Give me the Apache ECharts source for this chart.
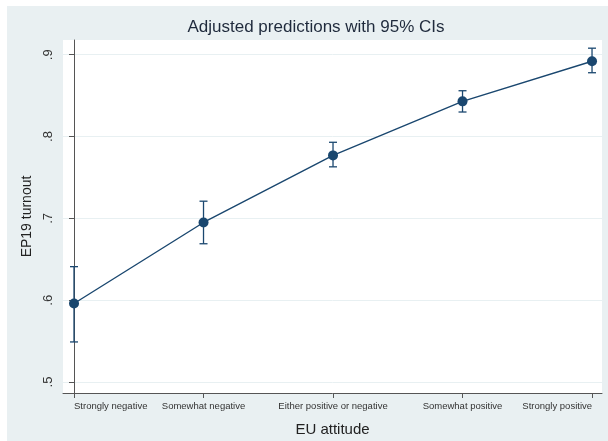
<!DOCTYPE html>
<html>
<head>
<meta charset="utf-8">
<script src="https://cdn.jsdelivr.net/npm/echarts@6/dist/echarts.min.js"></script>
<style>
  html, body { margin: 0; padding: 0; background: #ffffff; }
  #chart { width: 608px; height: 441px; }
</style>
</head>
<body>
<div id="chart"></div>
<script>
// EU attitude categories along the x axis
const categories = [
  'Strongly negative',
  'Somewhat negative',
  'Either positive or negative',
  'Somewhat positive',
  'Strongly positive'
];
// Adjusted predicted EP19 turnout with 95% confidence limits
const predicted = [0.596, 0.695, 0.777, 0.843, 0.892];
const ciLower   = [0.549, 0.669, 0.763, 0.830, 0.878];
const ciUpper   = [0.641, 0.721, 0.793, 0.856, 0.908];
// y axis tick values
const yTicks = [0.5, 0.6, 0.7, 0.8, 0.9];

const navy = '#1a476f';
const fontFamily = '"Liberation Sans", Arial, Helvetica, sans-serif';

const linePoints = predicted.map((v, i) => [i, v]);
const ciPoints = ciLower.map((lo, i) => [i, lo, ciUpper[i]]);

const chart = echarts.init(document.getElementById('chart'), null, { renderer: 'canvas' });

chart.setOption({
  animation: false,
  backgroundColor: '#ffffff',
  graphic: [{
    type: 'rect',
    z: -10,
    silent: true,
    shape: { x: 7, y: 6, width: 601, height: 435 },
    style: { fill: '#e9f0f2' }
  }],
  title: {
    text: 'Adjusted predictions with 95% CIs',
    left: 311,
    textAlign: 'center',
    top: 14,
    textStyle: { fontFamily, fontSize: 17, fontWeight: 'normal', color: '#1f2a3c' }
  },
  grid: {
    left: 63, right: 6, top: 40, bottom: 48,
    outerBoundsMode: 'none',
    containLabel: false,
    show: true, backgroundColor: '#ffffff', borderWidth: 0
  },
  xAxis: {
    type: 'value',
    min: -0.085,
    max: 4.077,
    name: 'EU attitude',
    nameLocation: 'middle',
    nameGap: 29,
    nameTextStyle: { fontFamily, fontSize: 15, color: '#222222' },
    axisLine: { show: true, onZero: false, lineStyle: { color: '#555555', width: 1 } },
    axisTick: { show: true, length: 5, customValues: categories.map((c, i) => i), lineStyle: { color: '#555555' } },
    axisLabel: {
      customValues: categories.map((c, i) => i),
      formatter: v => categories[Math.round(v)],
      hideOverlap: false,
      alignMinLabel: 'left',
      alignMaxLabel: 'right',
      fontFamily, fontSize: 9.5, color: '#333333', margin: 8
    },
    splitLine: { show: false }
  },
  yAxis: {
    type: 'value',
    min: 0.4866,
    max: 0.918,
    name: 'EP19 turnout',
    nameLocation: 'middle',
    nameGap: 29,
    nameTextStyle: { fontFamily, fontSize: 14, color: '#222222' },
    axisLine: { show: true, lineStyle: { color: '#555555', width: 1 } },
    axisTick: { show: true, length: 5, customValues: yTicks, lineStyle: { color: '#555555' } },
    axisLabel: {
      customValues: yTicks,
      rotate: 90,
      formatter: v => v.toFixed(1).replace(/^0/, ''),
      fontFamily, fontSize: 13, color: '#333333', margin: 8
    },
    splitLine: { show: true, lineStyle: { color: '#e8f0f2', width: 1 } }
  },
  series: [
    {
      type: 'custom',
      name: 'CI',
      z: 2,
      data: ciPoints,
      renderItem: (params, api) => {
        const x = api.value(0);
        const lo = api.coord([x, api.value(1)]);
        const hi = api.coord([x, api.value(2)]);
        const half = 4;
        const style = { stroke: navy, lineWidth: 1.3 };
        return {
          type: 'group',
          children: [
            { type: 'line', shape: { x1: lo[0], y1: lo[1], x2: hi[0], y2: hi[1] }, style },
            { type: 'line', shape: { x1: lo[0] - half, y1: lo[1], x2: lo[0] + half, y2: lo[1] }, style },
            { type: 'line', shape: { x1: hi[0] - half, y1: hi[1], x2: hi[0] + half, y2: hi[1] }, style }
          ]
        };
      }
    },
    {
      type: 'line',
      name: 'Prediction',
      z: 3,
      data: linePoints,
      symbol: 'circle',
      symbolSize: 10,
      lineStyle: { color: navy, width: 1.4 },
      itemStyle: { color: navy }
    }
  ]
});
</script>
</body>
</html>
